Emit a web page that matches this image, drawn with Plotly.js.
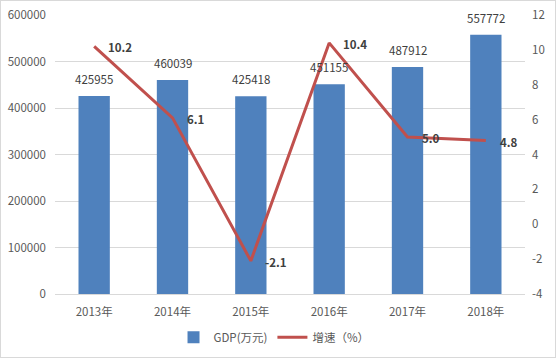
<!DOCTYPE html>
<html><head><meta charset="utf-8">
<script src="https://cdn.plot.ly/plotly-3.0.1.min.js"></script>
<style>html,body{margin:0;padding:0;background:#fff}#c{width:556px;height:358px}
#frame{position:absolute;left:0;top:0;width:554px;height:356px;border:1px solid #d9d9d9;pointer-events:none}</style>
</head><body><div id="c"></div><div id="frame"></div>
<script>
const years = ['2013年','2014年','2015年','2016年','2017年','2018年'];
const gdp = [425955, 460039, 425418, 451155, 487912, 557772];
const growth = [10.2, 6.1, -2.1, 10.4, 5.0, 4.8];
const growthLabels = ['10.2','6.1','-2.1','10.4','5.0','4.8'];
const rightTicks = [-4,-2,0,2,4,6,8,10,12];
const rightTickText = ['-4','-2','0','2','4','6','8','10','12'];
const gdpName = 'GDP(万元)';
const growthName = '增速（%）';

const FONT = 'Noto Sans CJK SC, Noto Sans, sans-serif';
const traces = [
  {type:'bar', x:years, y:gdp, name:gdpName, marker:{color:'#4F81BD'}, hoverinfo:'none'},
  {type:'scatter', mode:'lines', x:years, y:growth, name:growthName, yaxis:'y2',
   line:{color:'#C0504D', width:3}, hoverinfo:'none'}
];
const ann = [];
years.forEach((y,i)=>{
  ann.push({x:y, y:gdp[i], xref:'x', yref:'y', text:String(gdp[i]), showarrow:false,
    yanchor:'bottom', yshift:7, font:{size:11.5, color:'#404040', family:FONT}});
  ann.push({x:y, y:growth[i], xref:'x', yref:'y2', text:'<b>'+growthLabels[i]+'</b>', showarrow:false,
    xanchor:'left', xshift:12, yshift:-1, font:{size:11.5, color:'#404040', family:FONT}});
});
const layout = {
  width:556, height:358, margin:{l:55, r:31, t:15, b:64},
  paper_bgcolor:'#fff', plot_bgcolor:'#fff',
  font:{family:FONT, size:11.5, color:'#595959'},
  bargap:0.6, showlegend:true,
  legend:{orientation:'h', x:0.466, xanchor:'center', yref:'container', y:0.058, yanchor:'middle',
    font:{size:11.5, color:'#595959'}, itemwidth:30, traceorder:'normal'},
  xaxis:{type:'category', showgrid:false, showline:true, linecolor:'#d9d9d9', ticks:'', automargin:false,
    tickfont:{size:11.5, color:'#595959'}, ticklabelstandoff:7},
  yaxis:{range:[0,600000], dtick:100000, showgrid:true, gridcolor:'#d9d9d9', zeroline:false, automargin:false,
    ticks:'', tickformat:'d', tickfont:{size:11.5, color:'#595959'}, ticklabelstandoff:8},
  yaxis2:{range:[-4,12], tickmode:'array', tickvals:rightTicks, ticktext:rightTickText, automargin:false,
    overlaying:'y', side:'right', showgrid:false, zeroline:false,
    ticks:'', tickfont:{size:11.5, color:'#595959'}, ticklabelstandoff:6},
  annotations:ann
};
Plotly.newPlot('c', traces, layout, {displayModeBar:false, staticPlot:true});
</script></body></html>
